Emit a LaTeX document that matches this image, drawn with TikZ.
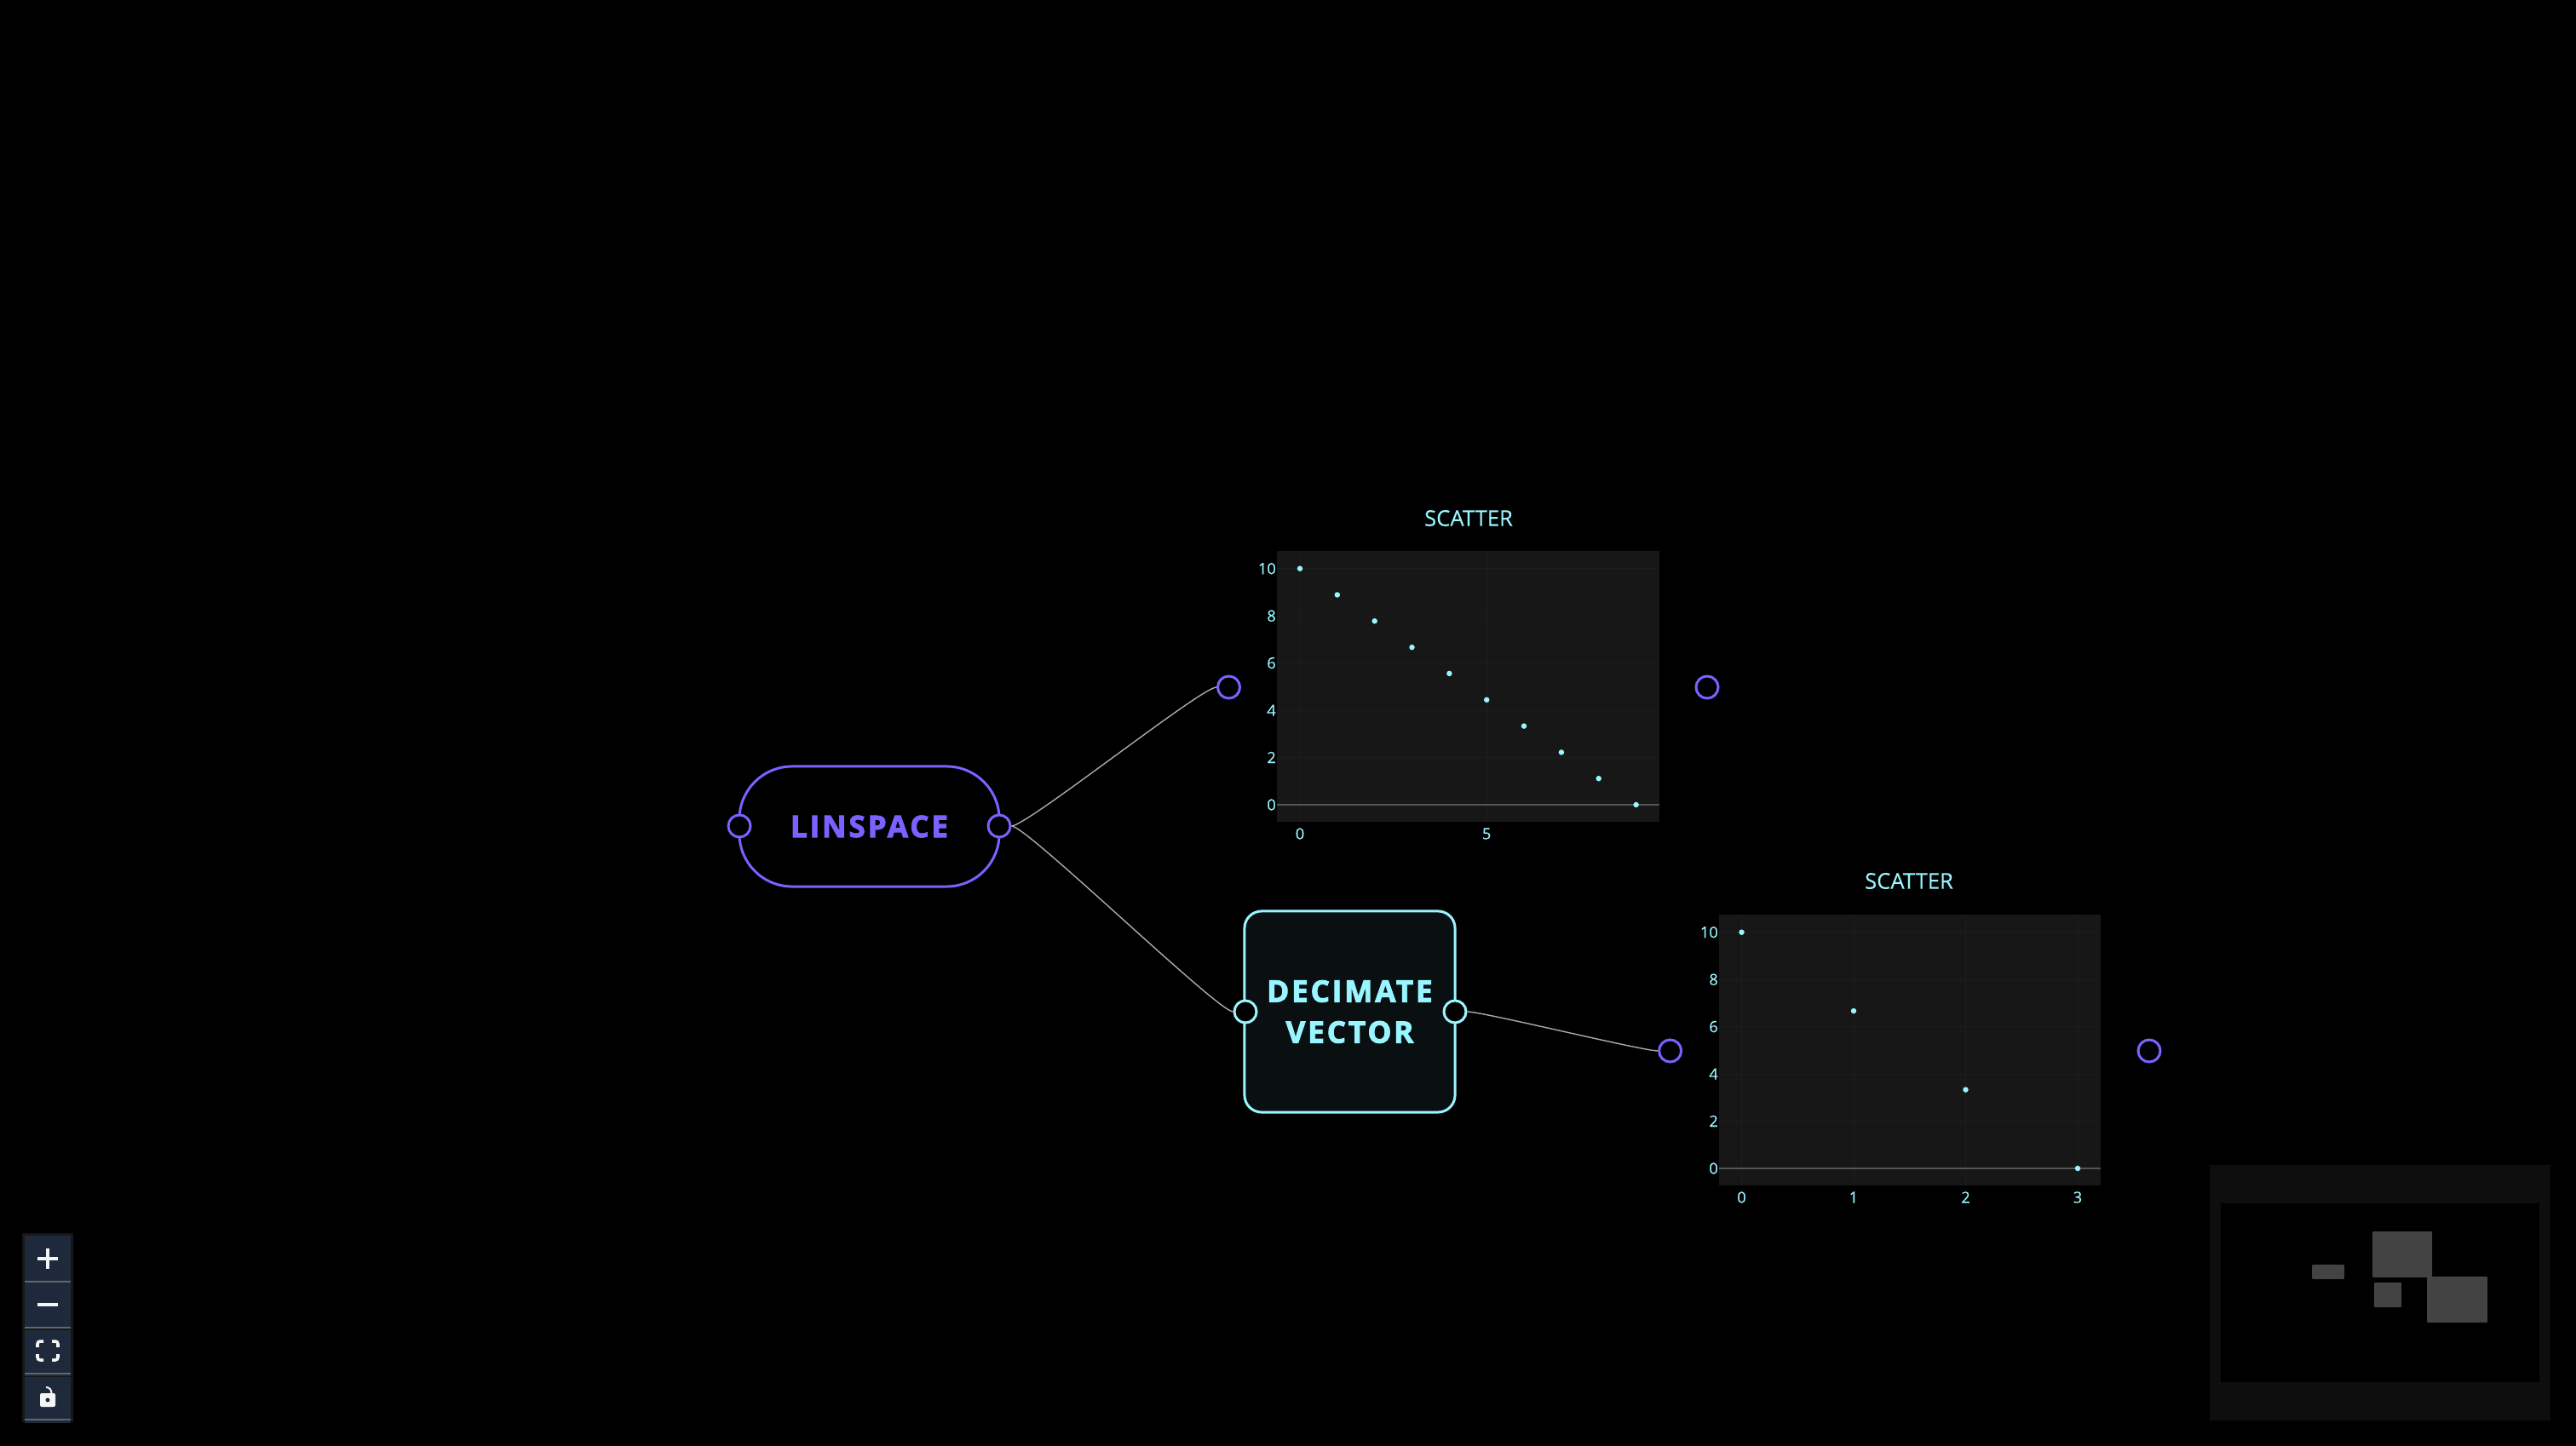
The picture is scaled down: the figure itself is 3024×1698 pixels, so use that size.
\documentclass[tikz,border=0pt]{standalone}
\usepackage{fontspec}
\usepackage{tikz}
\usetikzlibrary{positioning}
\setmainfont{Open Sans}
\newfontfamily\titlefont[LetterSpace=8,BoldFeatures={FakeBold=2.6}]{Open Sans}
\newfontfamily\plotfont[FakeBold=0.2]{Open Sans}
\definecolor{pagebg}{HTML}{000000}
\definecolor{violet}{HTML}{7B61FF}
\definecolor{cyanish}{HTML}{99F5FF}
\definecolor{boxbg}{HTML}{0A0F11}
\definecolor{plotbg}{HTML}{171717}
\definecolor{gridln}{HTML}{1D1D1D}
\definecolor{zeroln}{HTML}{555555}
\definecolor{edgeln}{HTML}{AAAAAA}
\definecolor{btnbg}{HTML}{1E293B}
\definecolor{btnln}{HTML}{666666}
\definecolor{mapbg}{HTML}{0E0E0E}
\definecolor{mapnode}{HTML}{434343}

\begin{document}
\begin{tikzpicture}[x=0.01cm,y=-0.01cm,
  port/.style={circle,draw,line width=0.03cm,fill=black,minimum size=0.26cm,inner sep=0pt},
  vport/.style={port,draw=violet},
  cport/.style={port,draw=cyanish},
  flow/.style={draw=edgeln,line width=0.014cm},
  plotbox/.style={rectangle,fill=plotbg,inner sep=0pt},
  dot/.style={circle,fill=cyanish,minimum size=0.065cm,inner sep=0pt},
  plottitle/.style={font=\fontsize{7.3}{9}\selectfont\plotfont,text=cyanish,inner sep=0pt},
  ylab/.style={font=\fontsize{5.2}{6}\selectfont\plotfont,text=cyanish,anchor=east,inner sep=0pt},
  xlab/.style={font=\fontsize{5.2}{6}\selectfont\plotfont,text=cyanish,inner sep=0pt},
  grid/.style={draw=gridln,line width=0.01cm},
  zero/.style={draw=zeroln,line width=0.016cm},
  btn/.style={rectangle,fill=btnbg,minimum width=0.54cm,minimum height=0.54cm,inner sep=0pt},
  icon/.style={draw=white!96!black,line width=0.035cm},
  divider/.style={draw=btnln,line width=0.02cm},
  mapbox/.style={fill=mapnode,rounded corners=0.01cm}]

\fill[pagebg] (0,0) rectangle (3024,1698);
\useasboundingbox (0,0) rectangle (3024,1698);

\node[rectangle,draw=violet,line width=0.03cm,fill=black,rounded corners=0.62cm,
      minimum width=3.05cm,minimum height=1.41cm,inner sep=0pt,
      text=violet,font=\fontsize{10}{12}\selectfont\titlefont\bfseries] (lin) at (1020.5,970.5) {LINSPACE};
\node[vport] (linIn) at (868,970) {};
\node[vport] (linOut) at (1173,970) {};

\node[rectangle,draw=cyanish,line width=0.03cm,fill=boxbg,rounded corners=0.2cm,
      minimum width=2.47cm,minimum height=2.36cm,inner sep=0pt,align=center,
      text=cyanish,font=\fontsize{10}{13.65}\selectfont\titlefont\bfseries] (dec) at (1584.5,1188) {DECIMATE\\VECTOR};
\node[cport] (decIn) at (1462,1188) {};
\node[cport] (decOut) at (1708,1188) {};

\node[plotbox,minimum width=4.49cm,minimum height=3.18cm] (scatA) at (1723.5,806) {};
\node[plottitle] (titleA) at (1724,608.5) {SCATTER};
\node[vport] (scatAIn) at (1442.5,807) {};
\node[vport] (scatAOut) at (2004,807) {};

\draw[grid] (1499,667.7) -- (1948,667.7);
\draw[grid] (1499,723.2) -- (1948,723.2);
\draw[grid] (1499,778.6) -- (1948,778.6);
\draw[grid] (1499,834.1) -- (1948,834.1);
\draw[grid] (1499,889.5) -- (1948,889.5);
\draw[grid] (1526,647) -- (1526,965);
\draw[grid] (1745.2,647) -- (1745.2,965);
\draw[zero] (1499,945) -- (1948,945);

\node[ylab] (ya10) at (1498.5,667.7) {10};
\node[ylab] (ya8) at (1498.5,723.2) {8};
\node[ylab] (ya6) at (1498.5,778.6) {6};
\node[ylab] (ya4) at (1498.5,834.1) {4};
\node[ylab] (ya2) at (1498.5,889.5) {2};
\node[ylab] (ya0) at (1498.5,945) {0};
\node[xlab] (xa0) at (1526,979) {0};
\node[xlab] (xa5) at (1745.2,979) {5};

\node[dot] (a0) at (1526,667.7) {};
\node[dot] (a1) at (1569.8,698.5) {};
\node[dot] (a2) at (1613.7,729.3) {};
\node[dot] (a3) at (1657.5,760.1) {};
\node[dot] (a4) at (1701.4,790.9) {};
\node[dot] (a5) at (1745.2,821.8) {};
\node[dot] (a6) at (1789,852.6) {};
\node[dot] (a7) at (1832.9,883.4) {};
\node[dot] (a8) at (1876.7,914.2) {};
\node[dot] (a9) at (1920.6,945) {};

\node[plotbox,minimum width=4.48cm,minimum height=3.18cm] (scatB) at (2242,1233) {};
\node[plottitle] (titleB) at (2241,1034.5) {SCATTER};
\node[vport] (scatBIn) at (1960.6,1234) {};
\node[vport] (scatBOut) at (2523,1234) {};

\draw[grid] (2018,1094.7) -- (2466,1094.7);
\draw[grid] (2018,1150.2) -- (2466,1150.2);
\draw[grid] (2018,1205.6) -- (2466,1205.6);
\draw[grid] (2018,1261.1) -- (2466,1261.1);
\draw[grid] (2018,1316.5) -- (2466,1316.5);
\draw[grid] (2044.5,1074) -- (2044.5,1392);
\draw[grid] (2176,1074) -- (2176,1392);
\draw[grid] (2307.5,1074) -- (2307.5,1392);
\draw[grid] (2439,1074) -- (2439,1392);
\draw[zero] (2018,1372) -- (2466,1372);

\node[ylab] (yb10) at (2017.5,1094.7) {10};
\node[ylab] (yb8) at (2017.5,1150.2) {8};
\node[ylab] (yb6) at (2017.5,1205.6) {6};
\node[ylab] (yb4) at (2017.5,1261.1) {4};
\node[ylab] (yb2) at (2017.5,1316.5) {2};
\node[ylab] (yb0) at (2017.5,1372) {0};
\node[xlab] (xb0) at (2044.5,1406) {0};
\node[xlab] (xb1) at (2176,1406) {1};
\node[xlab] (xb2) at (2307.5,1406) {2};
\node[xlab] (xb3) at (2439,1406) {3};

\node[dot] (b0) at (2044.5,1094.7) {};
\node[dot] (b1) at (2176,1187.1) {};
\node[dot] (b2) at (2307.5,1279.6) {};
\node[dot] (b3) at (2439,1372) {};

\draw[flow] (linOut.east) .. controls +(18,0) and +(-18,0) .. (scatAIn.west);
\draw[flow] (linOut.east) .. controls +(18,0) and +(-18,0) .. (decIn.west);
\draw[flow] (decOut.east) .. controls +(18,0) and +(-18,0) .. (scatBIn.west);

\fill[black!91!white] (26,1448) rectangle (86,1670);
\node[btn] (zoomIn) at (56,1478) {};
\node[btn,below=0pt of zoomIn] (zoomOut) {};
\node[btn,below=0pt of zoomOut] (fitView) {};
\node[btn,below=0pt of fitView] (lockView) {};

\draw[divider] (29,1505) -- (83,1505);
\draw[divider] (29,1559) -- (83,1559);
\draw[divider] (29,1613) -- (83,1613);
\draw[divider] (29,1667) -- (83,1667);

\draw[icon] (44,1478) -- (68,1478);
\draw[icon] (56,1466) -- (56,1490);
\draw[icon] (44,1532) -- (68,1532);
\draw[icon,rounded corners=0.03cm] (44,1582) -- (44,1575) -- (51,1575);
\draw[icon,rounded corners=0.03cm] (61,1575) -- (68,1575) -- (68,1582);
\draw[icon,rounded corners=0.03cm] (68,1590) -- (68,1597) -- (61,1597);
\draw[icon,rounded corners=0.03cm] (51,1597) -- (44,1597) -- (44,1590);
\fill[white!96!black,rounded corners=0.02cm] (47,1636) rectangle (65,1652);
\fill[btnbg] (56,1644) circle (2.5);
\draw[white!96!black,line width=0.02cm] (54,1629) .. controls (58,1629) and (60.5,1632) .. (60.5,1636);

\fill[mapbg] (2594,1368) rectangle (2994,1668);
\fill[black] (2606.5,1413) rectangle (2981,1623);
\fill[mapbox] (2714,1485) rectangle (2752,1502);
\fill[mapbox] (2785,1446) rectangle (2855,1500);
\fill[mapbox] (2787,1506) rectangle (2819,1535);
\fill[mapbox] (2849,1499) rectangle (2920,1553);
\end{tikzpicture}
\end{document}
